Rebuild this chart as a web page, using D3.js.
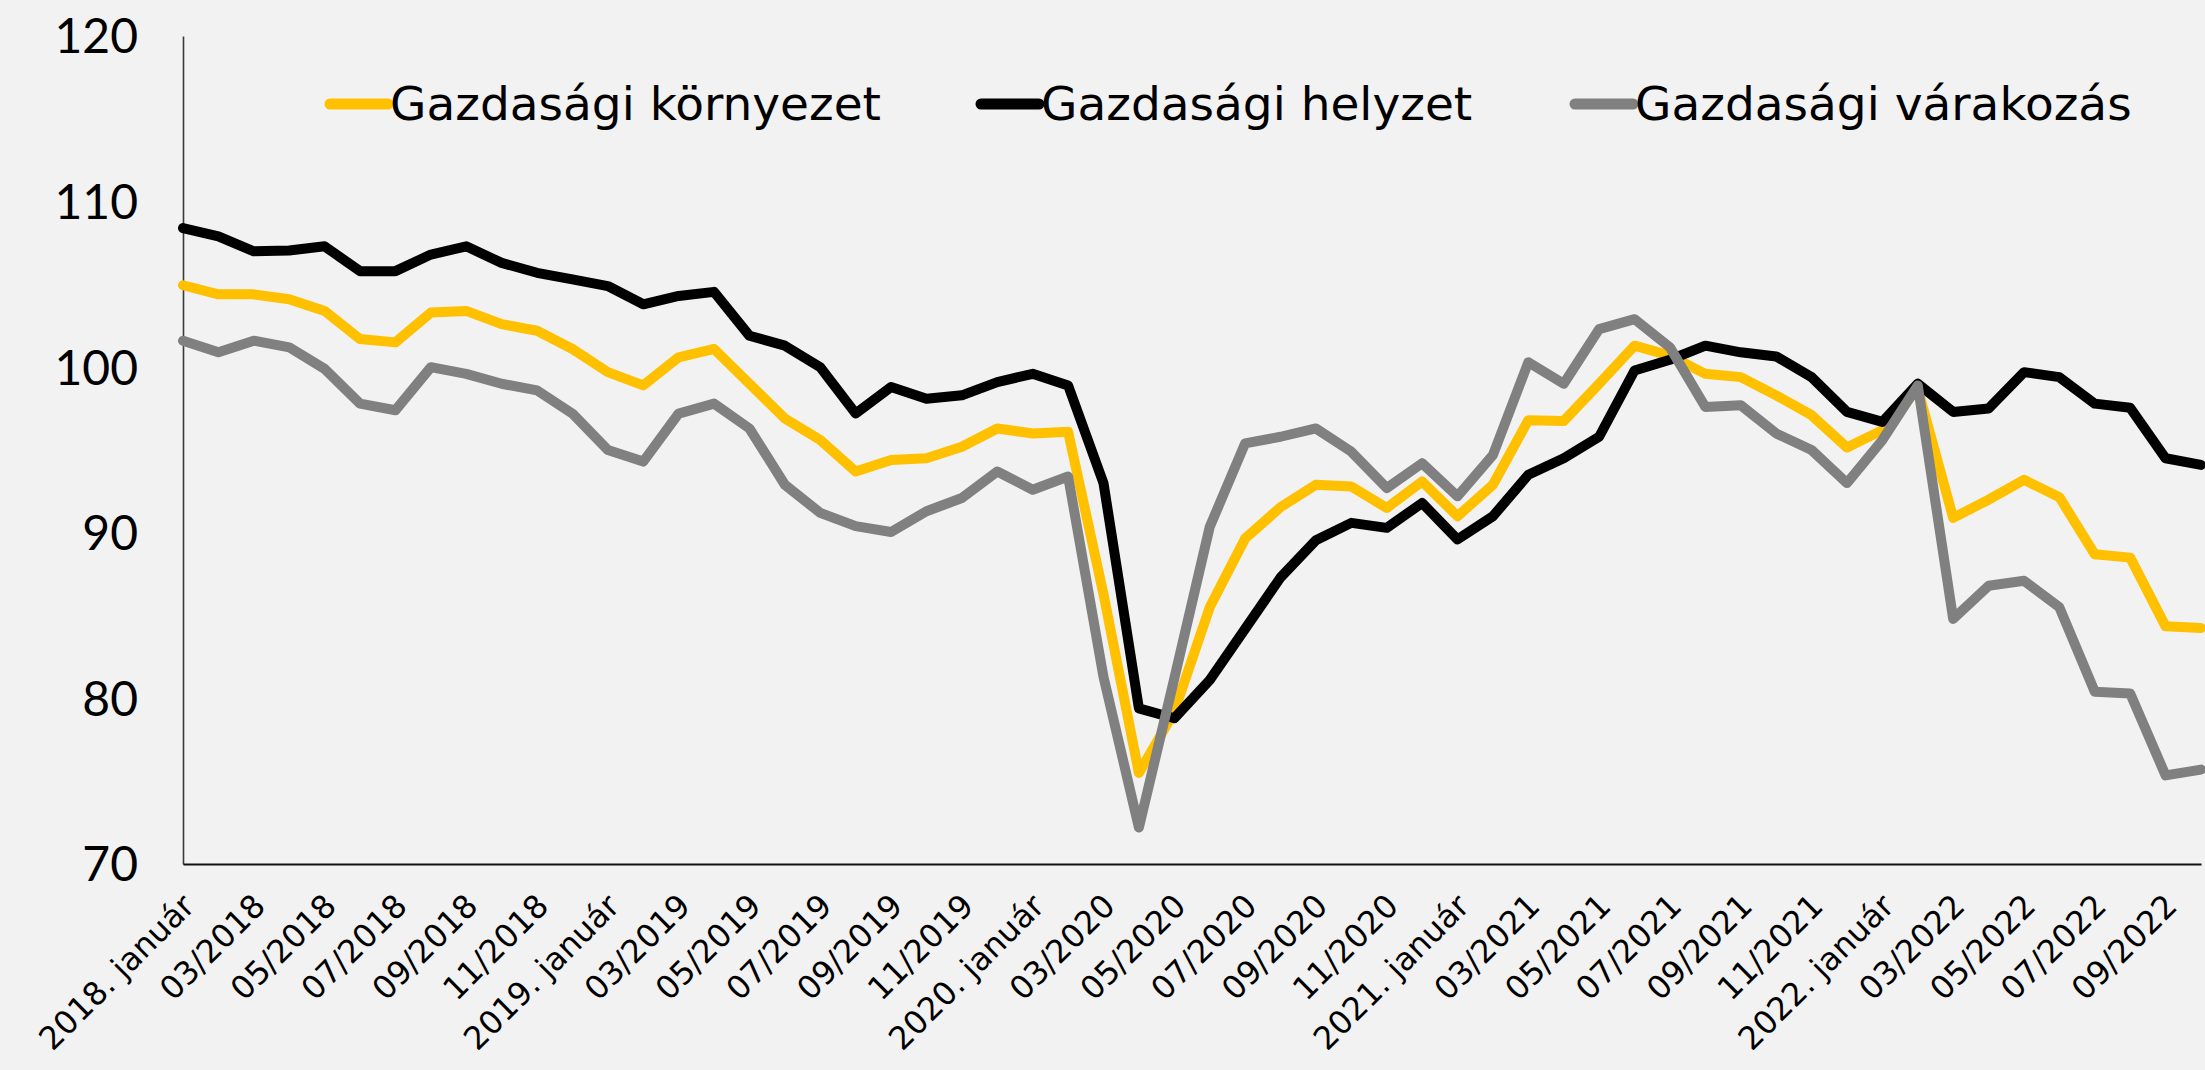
<!DOCTYPE html>
<html>
<head>
<meta charset="utf-8">
<script src="https://cdnjs.cloudflare.com/ajax/libs/d3/7.8.5/d3.min.js"></script>
<style>
    body { margin: 0; background: #f2f2f2; }
    svg { display: block; font-family: 'DejaVu Sans', sans-serif; }
</style>
</head>
<body>
<script>
// honapok 2018 januar - 2022 oktober
var categories = [
    '2018. január', '02/2018', '03/2018', '04/2018', '05/2018', '06/2018', '07/2018', '08/2018', '09/2018', '10/2018', '11/2018', '12/2018',
    '2019. január', '02/2019', '03/2019', '04/2019', '05/2019', '06/2019', '07/2019', '08/2019', '09/2019', '10/2019', '11/2019', '12/2019',
    '2020. január', '02/2020', '03/2020', '04/2020', '05/2020', '06/2020', '07/2020', '08/2020', '09/2020', '10/2020', '11/2020', '12/2020',
    '2021. január', '02/2021', '03/2021', '04/2021', '05/2021', '06/2021', '07/2021', '08/2021', '09/2021', '10/2021', '11/2021', '12/2021',
    '2022. január', '02/2022', '03/2022', '04/2022', '05/2022', '06/2022', '07/2022', '08/2022', '09/2022', '10/2022'
];

var kornyezet = [
    104.95, 104.4, 104.4, 104.1, 103.4, 101.7, 101.5, 103.3, 103.4, 102.6, 102.2, 101.1,
    99.7, 98.9, 100.6, 101.1, 99.0, 96.9, 95.6, 93.7, 94.4, 94.5, 95.2, 96.3,
    96.0, 96.1, 86.3, 75.5, 79.2, 85.5, 89.65, 91.55, 92.9, 92.8, 91.5, 93.1,
    91.0, 92.9, 96.8, 96.75, 99.0, 101.3, 100.7, 99.6, 99.4, 98.3, 97.1, 95.15,
    96.2, 98.7, 90.9, 92.0, 93.2, 92.15, 88.7, 88.5, 84.35, 84.25
];

var helyzet = [
    108.4, 107.9, 107.0, 107.05, 107.3, 105.8, 105.8, 106.8, 107.3, 106.3, 105.7, 105.3,
    104.9, 103.8, 104.3, 104.55, 101.9, 101.3, 100.0, 97.2, 98.8, 98.1, 98.3, 99.1,
    99.6, 98.9, 93.0, 79.4, 78.8, 81.1, 84.2, 87.3, 89.55, 90.6, 90.3, 91.8,
    89.6, 91.0, 93.5, 94.5, 95.8, 99.8, 100.45, 101.3, 100.9, 100.65, 99.4, 97.3,
    96.7, 99.0, 97.3, 97.5, 99.7, 99.4, 97.8, 97.55, 94.5, 94.1
];

var varakozas = [
    101.6, 100.9, 101.6, 101.2, 99.9, 97.8, 97.4, 100.0, 99.6, 99.0, 98.6, 97.2,
    95.0, 94.3, 97.2, 97.8, 96.3, 92.9, 91.2, 90.4, 90.05, 91.3, 92.1, 93.7,
    92.6, 93.4, 81.3, 72.2, 81.2, 90.35, 95.4, 95.8, 96.3, 94.9, 92.7, 94.2,
    92.2, 94.7, 100.3, 99.0, 102.3, 102.9, 101.2, 97.6, 97.7, 96.0, 95.0, 93.0,
    95.6, 98.9, 84.8, 86.8, 87.1, 85.5, 80.4, 80.3, 75.35, 75.7
];

var seriesNames = ['Gazdasági környezet', 'Gazdasági helyzet', 'Gazdasági várakozás'];
var yTicks = [70, 80, 90, 100, 110, 120];

var width = 2205;
var height = 1070;
var colors = ['#ffc000', '#000000', '#808080'];

var svg = d3.select('body')
    .append('svg')
    .attr('width', width)
    .attr('height', height);

svg.append('rect')
    .attr('width', width)
    .attr('height', height)
    .attr('fill', '#f2f2f2');

var xScale = d3.scalePoint()
    .domain(categories)
    .range([183, 2201]);

var yScale = d3.scaleLinear()
    .domain([70, 120])
    .range([864, 36]);

//Y tengely
var yAxis = d3.axisLeft(yScale)
    .tickValues(yTicks)
    .tickSize(0)
    .tickSizeOuter(0)
    .tickPadding(45);

var yG = svg.append('g')
    .attr('transform', 'translate(183,0)')
    .call(yAxis);
yG.select('.domain').attr('stroke', '#3a3a3a').attr('stroke-width', 1.6);
yG.selectAll('text')
    .attr('font-family', 'Lato, sans-serif')
    .attr('font-size', 48)
    .attr('fill', '#000')
    .attr('dy', '0.35em');

//X tengely, minden masodik honap
var xAxis = d3.axisBottom(xScale)
    .tickValues(categories.filter(function(d, i){ return i % 2 === 0; }))
    .tickSize(0)
    .tickSizeOuter(0);

var xG = svg.append('g')
    .attr('transform', 'translate(0,864)')
    .call(xAxis);
xG.select('.domain').attr('stroke', '#111').attr('stroke-width', 2);
xG.selectAll('text')
    .attr('font-family', "'DejaVu Sans', sans-serif")
    .attr('font-size', 32)
    .attr('fill', '#000')
    .attr('text-anchor', 'end')
    .attr('x', 0)
    .attr('y', 0)
    .attr('dy', '0.35em')
    .attr('transform', 'translate(5,36) rotate(-45)');

//vonalak
var line = d3.line()
    .x(function(d, i){ return xScale(categories[i]); })
    .y(function(d){ return yScale(d); });

var allSeries = [kornyezet, helyzet, varakozas];

svg.selectAll('path.series')
    .data(allSeries)
    .enter()
    .append('path')
    .attr('class', 'series')
    .attr('d', line)
    .attr('fill', 'none')
    .attr('stroke', function(d, i){ return colors[i]; })
    .attr('stroke-width', 10)
    .attr('stroke-linejoin', 'round')
    .attr('stroke-linecap', 'round');

//jelmagyarazat
var legendX = [330, 981, 1575];
var legend = svg.selectAll('g.legend')
    .data(seriesNames)
    .enter()
    .append('g')
    .attr('class', 'legend')
    .attr('transform', function(d, i){ return 'translate(' + legendX[i] + ',104)'; });

legend.append('line')
    .attr('x1', 0)
    .attr('x2', 58)
    .attr('y1', 0)
    .attr('y2', 0)
    .attr('stroke', function(d, i){ return colors[i]; })
    .attr('stroke-width', 11)
    .attr('stroke-linecap', 'round');

legend.append('text')
    .attr('x', 60)
    .attr('y', 0)
    .attr('dy', '0.35em')
    .attr('font-size', 47)
    .attr('fill', '#000')
    .text(function(d){ return d; });
</script>
</body>
</html>
